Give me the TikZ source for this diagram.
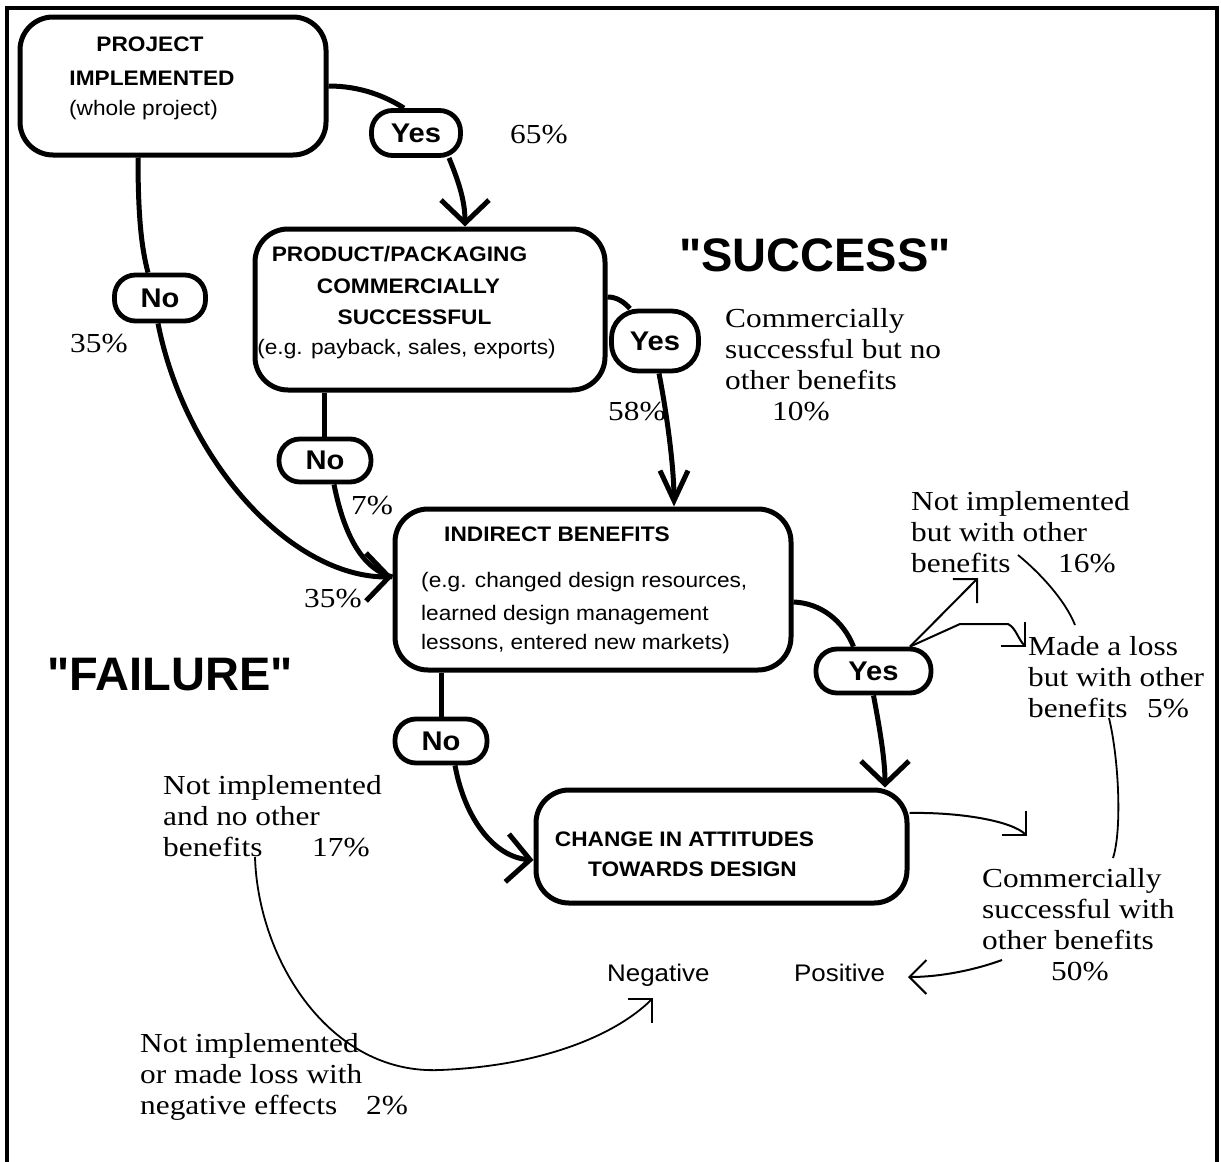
\documentclass[tikz,border=0pt]{standalone}
\usepackage{fontspec}
\setmainfont{Liberation Serif}
\newfontfamily\serifS{Liberation Serif}[FakeStretch=1.14]
\newfontfamily\sansS{Liberation Sans}[FakeStretch=1.08]
\newfontfamily\sansN{Liberation Sans}
\usetikzlibrary{arrows.meta}
\newcommand{\tlines}[1]{\vtop{\baselineskip=31pt\lineskiplimit=-50pt #1}}
\begin{document}
\begin{tikzpicture}[x=1pt,y=-1pt,
  bx/.style={draw, line width=5pt, rounded corners=33pt, inner sep=0pt},
  ov/.style={draw, line width=4.8pt, inner sep=0pt, rounded corners=21pt, font=\sansS\bfseries\fontsize{27pt}{30pt}\selectfont},
  conn/.style={line width=5pt},
  bigarr/.style={-{Straight Barb[length=23pt,width=48pt]}},
  bigarrn/.style={-{Straight Barb[length=30pt,width=28pt]}},
  thinarr/.style={line width=2pt,-{Straight Barb[length=17pt,width=34pt]}},
  thinln/.style={line width=1.8pt},
  tx/.style={inner sep=0pt, anchor=base west, font=\serifS\fontsize{27.5pt}{31pt}\selectfont},
  bb/.style={inner sep=0pt, anchor=base, font=\sansS\bfseries\fontsize{21pt}{24pt}\selectfont},
  br/.style={inner sep=0pt, anchor=base, font=\sansS\fontsize{21pt}{24pt}\selectfont},
  big/.style={inner sep=0pt, anchor=base west, font=\sansN\bfseries\fontsize{47pt}{52pt}\selectfont},
  pn/.style={inner sep=0pt, anchor=base west, font=\sansS\fontsize{24pt}{27pt}\selectfont},
]
\useasboundingbox (0,0) rectangle (1221,1162);
\draw[line width=4pt] (7,1162) -- (7,8) -- (1217,8) -- (1217,1162);

% boxes
\node[bx, minimum width=306pt, minimum height=138pt] (b1) at (173,86) {};
\node[bx, minimum width=350pt, minimum height=161pt] (b2) at (430,309.5) {};
\node[bx, minimum width=396pt, minimum height=161pt] (b3) at (593,589.5) {};
\node[bx, minimum width=371pt, minimum height=113pt] (b4) at (721.5,846.5) {};

% box texts
\node[bb] (t1a) at (150,51) {PROJECT};
\node[bb] (t1b) at (152,85) {IMPLEMENTED};
\node[br] (t1c) at (143.5,115) {(whole project)};
\node[bb] (t2a) at (399.5,261) {PRODUCT/PACKAGING};
\node[bb] (t2b) at (408.5,293) {COMMERCIALLY};
\node[bb] (t2c) at (414.5,324) {SUCCESSFUL};
\node[br] (t2d) at (406.5,354) {(e.g. payback, sales, exports)};
\node[bb] (t3a) at (557,541) {INDIRECT BENEFITS};
\node[br, anchor=base west] (t3b) at (421,587) {(e.g. changed design resources,};
\node[br, anchor=base west] (t3c) at (421,620) {learned design management};
\node[br, anchor=base west] (t3d) at (421,649) {lessons, entered new markets)};
\node[bb] (t4a) at (684.5,846) {CHANGE IN ATTITUDES};
\node[bb] (t4b) at (692.5,876) {TOWARDS DESIGN};

% ovals
\node[ov, minimum width=89pt, minimum height=45pt] (y1) at (416,133) {Yes};
\node[ov, minimum width=91pt, minimum height=46pt] (n1) at (160,298) {No};
\node[ov, minimum width=87pt, minimum height=60pt, rounded corners=27pt] (y2) at (655,341) {Yes};
\node[ov, minimum width=92pt, minimum height=43pt] (n2) at (325,460.5) {No};
\node[ov, minimum width=115pt, minimum height=44pt] (y3) at (873.5,671) {Yes};
\node[ov, minimum width=92pt, minimum height=44pt] (n3) at (441,741) {No};

% big labels
\node[big] (succ) at (679,271) {"SUCCESS"};
\node[big] (fail) at (47,690) {"FAILURE"};

% serif texts
\node[tx] (p65) at (510,143) {65\%};
\node[tx] (p35a) at (70,352) {35\%};
\node[tx] (c10) at (725,327) {\tlines{\hbox{Commercially}\hbox{successful but no}\hbox{other benefits}\hbox{\hspace*{47pt}10\%}}};
\node[tx] (p58) at (608,420) {58\%};
\node[tx] (p7) at (351,514) {7\%};
\node[tx] (p35b) at (304,607) {35\%};
\node[tx] (c16) at (911,510) {\tlines{\hbox{Not implemented}\hbox{but with other}\hbox{\makebox[147pt][l]{benefits}16\%}}};
\node[tx] (c5) at (1028,655) {\tlines{\hbox{Made a loss}\hbox{but with other}\hbox{\makebox[119pt][l]{benefits}5\%}}};
\node[tx] (c17) at (163,794) {\tlines{\hbox{Not implemented}\hbox{and no other}\hbox{\makebox[149pt][l]{benefits}17\%}}};
\node[tx] (c50) at (982,887) {\tlines{\hbox{Commercially}\hbox{successful with}\hbox{other benefits}\hbox{\hspace*{69pt}50\%}}};
\node[tx] (c2) at (140,1052) {\tlines{\hbox{Not implemented}\hbox{or made loss with}\hbox{\makebox[226pt][l]{negative effects}2\%}}};
\node[pn] (neg) at (607,981) {Negative};
\node[pn] (pos) at (794,981) {Positive};

% thick connectors
\draw[conn] (b1.east) .. controls (360,86) and (385,96) .. ([xshift=-12pt]y1.north);
\draw[conn,bigarr] ([xshift=33pt]y1.south) .. controls (458,180) and (465,200) .. ([xshift=35pt]b2.north);
\draw[conn] ([xshift=-35pt]b1.south) .. controls (138,220) and (142,250) .. ([xshift=-12pt]n1.north);
\draw[conn,bigarr] ([xshift=-2pt]n1.south) .. controls (185,460) and (290,577) .. ([yshift=12.5pt]b3.west);
\draw[conn] ([xshift=-106pt]b2.south) -- ([xshift=-1pt]n2.north);
\draw[conn] ([xshift=9pt]n2.south) .. controls (345,540) and (365,570) .. ([yshift=12.5pt]b3.west);
\draw[conn] ([yshift=12.5pt]b2.east) .. controls (617,297) and (624,302) .. ([xshift=-25pt]y2.north);
\draw[conn,bigarrn] ([xshift=4pt]y2.south) .. controls (668,420) and (674,470) .. ([xshift=81pt]b3.north);
\draw[conn] ([yshift=-12.5pt]b3.east) .. controls (820,603) and (843,620) .. ([xshift=-20pt]y3.north);
\draw[conn,bigarr] (y3.south) .. controls (880,730) and (885,760) .. ([xshift=163.5pt]b4.north);
\draw[conn] ([xshift=-152pt]b3.south) -- (n3.north);
\draw[conn,bigarr] ([xshift=14pt]n3.south) .. controls (465,820) and (495,857) .. ([yshift=-13.5pt]b4.west);

% thin connectors
\coordinate (a16) at (978,578);
\coordinate (aloss) at (1026,647);
\coordinate (acs) at (1027,836);
\coordinate (aneg) at (653,998);
\coordinate (s16) at (1018,555);
\coordinate (e16) at (1075,625);
\coordinate (s5) at (1109,718);
\coordinate (e5) at (1113,858);
\coordinate (s50) at (1002,960);
\coordinate (apos) at (908,977);
\coordinate (s17) at (255,857);
\draw[thinarr] ([xshift=36.5pt]y3.north) -- (a16);
\draw[thinarr] ([xshift=36.5pt]y3.north) -- (960,624) -- (1008,624) .. controls (1016,628) and (1018,639) .. (aloss);
\draw[thinarr] ([yshift=33.5pt]b4.east) .. controls (960,812) and (1012,821) .. (acs);
\draw[thinln] (s16) .. controls (1040,573) and (1065,600) .. (e16);
\draw[thinln] (s5) .. controls (1119,760) and (1122,830) .. (e5);
\draw[thinarr] (s50) .. controls (975,970) and (940,977) .. (apos);
\draw[thinarr, line width=1.8pt] (s17) .. controls (258,960) and (330,1075) .. (440,1070) .. controls (540,1066) and (615,1036) .. (aneg);
\end{tikzpicture}
\end{document}
